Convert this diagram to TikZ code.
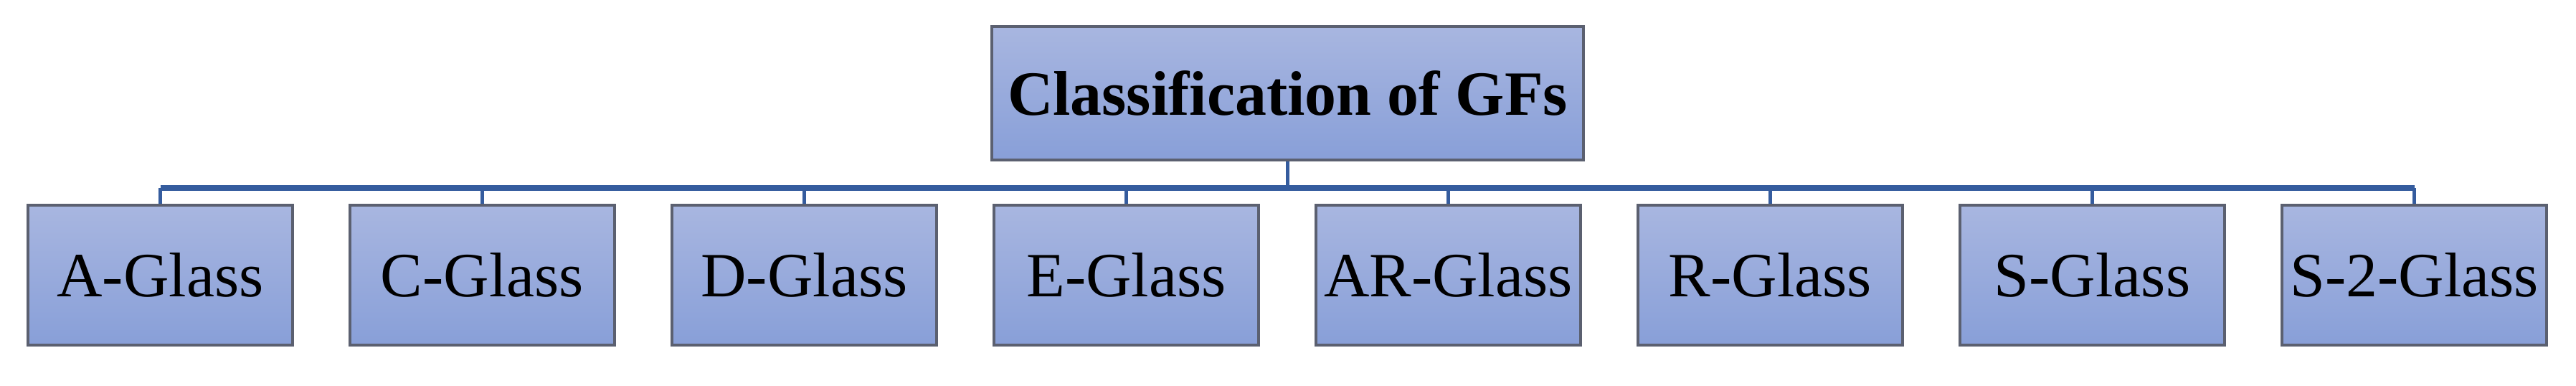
\documentclass[tikz,border=0pt]{standalone}
\usepackage{fontspec}
\setmainfont{Liberation Serif}
\usepackage{xcolor}
\definecolor{boxtop}{HTML}{A8B6E0}
\definecolor{boxbot}{HTML}{889FD8}
\definecolor{boxline}{HTML}{5B6070}
\definecolor{llink}{HTML}{355C9E}
\usetikzlibrary{positioning}

\begin{document}
\begin{tikzpicture}[
    	scale=1,
    	box/.style={draw=boxline,line width=1.2pt,top color=boxtop,bottom color=boxbot,
    	  minimum width=3.69cm,minimum height=1.95cm,inner sep=0pt,font=\fontsize{25}{28}\selectfont},
    	link/.style={llink,line width=1.3pt},
    ]
    \path[use as bounding box] (0,0) rectangle (35.92,-5.37);
    \node[box,minimum width=8.25cm,minimum height=1.86cm,font=\fontsize{25}{28}\selectfont\bfseries] (root) at (17.955,-1.30) {Classification of GFs};
    \coordinate (bar) at (17.955,-2.62);
    \foreach \i/\name in {0/A-Glass, 1/C-Glass, 2/D-Glass, 3/E-Glass, 4/AR-Glass, 5/R-Glass, 6/S-Glass, 7/S-2-Glass}
    {
    \node[box] (g\i) at (2.235+4.49*\i,-3.835) {\name};
    \draw[link] (g\i.north) -- (g\i.north |- bar);
    }
    \draw[link] (root.south) -- (bar);
    \draw[llink,line width=2.3pt] (g0.north |- bar) -- (g7.north |- bar);
\end{tikzpicture}
\end{document}
